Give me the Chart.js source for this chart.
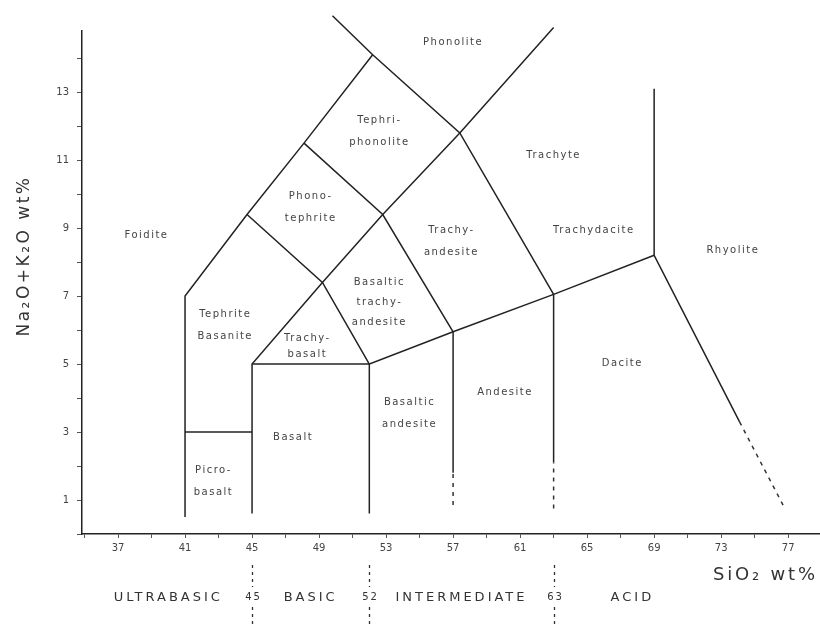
<!DOCTYPE html>
<html>
<head>
<meta charset="utf-8">
<script src="https://cdn.jsdelivr.net/npm/chart.js@4.4.1/dist/chart.umd.min.js"></script>
<style>
  html, body { margin: 0; padding: 0; background: #fff; }
  #wrap { width: 820px; height: 626px; }
</style>
</head>
<body>
<div id="wrap"><canvas id="tas"></canvas></div>
<script>
// tick labels
const xTickLabels = [37, 41, 45, 49, 53, 57, 61, 65, 69, 73, 77];
const xTickMarks = [35, 37, 39, 41, 43, 45, 47, 49, 51, 53, 55, 57, 59, 61, 63, 65, 67, 69, 71, 73, 75, 77];
const yTickLabels = [1, 3, 5, 7, 9, 11, 13];

// field boundaries as [SiO2, Na2O+K2O]
const foiditeEdge = [[41, 0.5], [41, 7], [44.7, 9.4], [48.1, 11.5], [52.2, 14.1]];
const phonoliteEdge = [[49.8, 15.25], [52.2, 14.1], [57.4, 11.8], [63, 7.05]];
const picroTop = [[41, 3], [45, 3]];
const basaltLeft = [[45, 0.6], [45, 5], [49.2, 7.4]];
const tephriteEdge = [[44.7, 9.4], [49.2, 7.4], [52, 5]];
const phonotephriteEdge = [[48.1, 11.5], [52.8, 9.4], [57, 5.95]];
const basaltTop = [[45, 5], [52, 5]];
const subalkalineEdge = [[52, 0.6], [52, 5], [57, 5.95], [63, 7.05], [69, 8.2]];
const trachyEdge = [[49.2, 7.4], [52.8, 9.4], [57.4, 11.8], [63, 14.9]];
const andesiteLeft = [[57, 1.8], [57, 5.95]];
const andesiteLeftDash = [[57, 0.85], [57, 1.8]];
const daciteLeft = [[63, 2.1], [63, 7.05]];
const daciteLeftDash = [[63, 0.75], [63, 2.1]];
const rhyoliteEdge = [[69, 13.1], [69, 8.2], [74.1, 3.3]];
const rhyoliteEdgeDash = [[74.1, 3.3], [76.8, 0.75]];

// field names and where they sit
const fieldLabels = [
    ['Phonolite'], ['Tephri-', 'phonolite'], ['Trachyte'], ['Phono-', 'tephrite'],
    ['Foidite'], ['Trachy-', 'andesite'], ['Trachydacite'], ['Rhyolite'],
    ['Basaltic', 'trachy-', 'andesite'], ['Tephrite', 'Basanite'], ['Trachy-', 'basalt'],
    ['Dacite'], ['Basaltic', 'andesite'], ['Andesite'], ['Basalt'], ['Picro-', 'basalt']
];
const fieldSiO2 = [57.0, 52.6, 63.0, 48.5, 38.7, 56.9, 65.4, 73.7, 52.6, 43.4, 48.3, 67.1, 54.4, 60.1, 47.45, 42.7];
const fieldAlk = [14.47, 11.85, 11.15, 9.6, 8.8, 8.6, 8.94, 8.35, 6.82, 6.15, 5.53, 5.03, 3.56, 4.18, 2.85, 1.56];

// silica classes below the axis
const classNames = ['ULTRABASIC', 'BASIC', 'INTERMEDIATE', 'ACID'];
const classCenters = [40, 48.5, 57.5, 67.7];
const classEdges = [45, 52, 63];

const solid = [foiditeEdge, phonoliteEdge, picroTop, basaltLeft, tephriteEdge, phonotephriteEdge,
    basaltTop, subalkalineEdge, trachyEdge, andesiteLeft, daciteLeft, rhyoliteEdge];
const dashed = [andesiteLeftDash, daciteLeftDash, rhyoliteEdgeDash];

function toPoints(arr) {
    return arr.map(p => ({ x: p[0], y: p[1] }));
}

const datasets = [];
solid.forEach(line => {
    datasets.push({ data: toPoints(line), showLine: true, pointRadius: 0,
        borderColor: '#222', borderWidth: 1.5, clip: false });
});
dashed.forEach(line => {
    datasets.push({ data: toPoints(line), showLine: true, pointRadius: 0,
        borderColor: '#333', borderWidth: 1.5, borderDash: [4, 5], clip: false });
});

const annotate = {
    id: 'annotate',
    afterDraw(chart) {
        const { ctx } = chart;
        const x = chart.scales.x, y = chart.scales.y;
        ctx.save();

        // field names
        ctx.fillStyle = '#444';
        ctx.font = '10px "DejaVu Sans"';
        ctx.letterSpacing = '1.5px';
        ctx.textAlign = 'center';
        ctx.textBaseline = 'middle';
        fieldLabels.forEach((lines, i) => {
            const px = x.getPixelForValue(fieldSiO2[i]);
            const py = y.getPixelForValue(fieldAlk[i]);
            let gap = lines.length === 3 ? 20 : 22;
            if (lines[1] === 'basalt' && lines[0] === 'Trachy-') gap = 16;
            const start = py - gap * (lines.length - 1) / 2;
            lines.forEach((t, j) => ctx.fillText(t, px, start + j * gap));
        });

        // axis titles
        ctx.fillStyle = '#333';
        ctx.font = '17px "DejaVu Sans"';
        ctx.letterSpacing = '2.5px';
        ctx.save();
        ctx.translate(25, 256);
        ctx.rotate(-Math.PI / 2);
        ctx.fillText('Na\u2082O+K\u2082O wt%', 0, 0);
        ctx.restore();

        ctx.font = '18px "DejaVu Sans"';
        ctx.letterSpacing = '2.8px';
        ctx.textAlign = 'left';
        ctx.fillText('SiO\u2082 wt%', 713, 575);

        // silica classes
        ctx.textAlign = 'center';
        ctx.font = '13px "DejaVu Sans"';
        ctx.letterSpacing = '3px';
        classNames.forEach((n, i) => {
            ctx.fillText(n, x.getPixelForValue(classCenters[i]), 598);
        });
        ctx.font = '10px "DejaVu Sans"';
        ctx.letterSpacing = '2px';
        ctx.strokeStyle = '#333';
        ctx.lineWidth = 1.3;
        ctx.setLineDash([3, 4]);
        classEdges.forEach(v => {
            const px = Math.round(x.getPixelForValue(v)) + 0.5;
            ctx.fillText(String(v), px + 1, 597);
            ctx.beginPath();
            ctx.moveTo(px, 565);
            ctx.lineTo(px, 587);
            ctx.moveTo(px, 607);
            ctx.lineTo(px, 626);
            ctx.stroke();
        });
        ctx.restore();
    }
};

new Chart(document.getElementById('tas'), {
    type: 'scatter',
    data: { datasets: datasets },
    plugins: [annotate],
    options: {
        responsive: true,
        maintainAspectRatio: false,
        animation: false,
        layout: { padding: { top: 31, right: 0, left: 0, bottom: 0 } },
        plugins: { legend: { display: false }, tooltip: { enabled: false } },
        scales: {
            x: {
                type: 'linear',
                min: 34.85,
                max: 78.9,
                afterFit: s => { s.height = 92; },
                afterBuildTicks: s => { s.ticks = xTickMarks.map(v => ({ value: v })); },
                border: { display: true, color: '#222', width: 1.5 },
                grid: { drawOnChartArea: false, drawTicks: true, tickLength: 4, color: '#555' },
                ticks: {
                    autoSkip: false,
                    maxRotation: 0,
                    padding: 4,
                    color: '#444',
                    font: { family: 'DejaVu Sans', size: 10 },
                    callback: v => (xTickLabels.includes(v) ? String(v) : '')
                }
            },
            y: {
                type: 'linear',
                min: 0,
                max: 14.8,
                afterFit: s => { s.width = 82; },
                border: { display: true, color: '#222', width: 1.5 },
                grid: { drawOnChartArea: false, drawTicks: true, tickLength: 5, color: '#555' },
                ticks: {
                    stepSize: 1,
                    includeBounds: false,
                    autoSkip: false,
                    padding: 8,
                    color: '#444',
                    font: { family: 'DejaVu Sans', size: 10 },
                    callback: v => (yTickLabels.includes(v) ? String(v) : '')
                }
            }
        }
    }
});
</script>
</body>
</html>
